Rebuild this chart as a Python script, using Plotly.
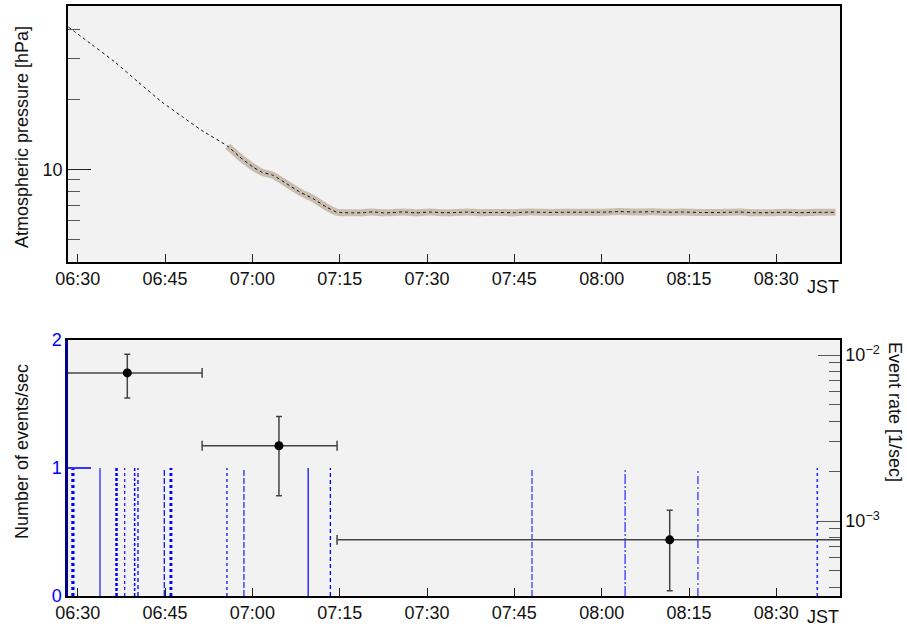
import pandas as pd
import plotly.graph_objects as go

DAY = "2024-01-01 "

# ---------------- data ----------------
# Atmospheric pressure [hPa] (top panel)
pressure_times = [
    "06:28:24", "06:32:24", "06:36:24", "06:40:24", "06:44:26", "06:47:52", "06:51:18",
    "06:55:46", "06:57:50", "07:00:07", "07:01:34", "07:03:34", "07:05:52", "07:08:08",
    "07:10:26", "07:12:44", "07:14:27",
    "07:15:00", "07:17:00", "07:19:00", "07:20:40", "07:22:30", "07:24:00", "07:25:50",
    "07:28:00", "07:30:30", "07:33:00", "07:35:00", "07:36:50", "07:39:00", "07:42:00",
    "07:45:00", "07:47:40", "07:50:00", "07:53:00", "07:56:00", "07:59:00", "08:01:00",
    "08:03:00", "08:05:30", "08:08:50", "08:11:00", "08:14:00", "08:17:00", "08:20:00",
    "08:23:45", "08:26:00", "08:29:00", "08:31:50", "08:34:00", "08:37:00", "08:40:10",
]
pressure_values = [
    40.9, 34.4, 28.9, 23.7, 19.5, 16.9, 14.7,
    12.56, 11.30, 10.23, 9.74, 9.42, 8.68, 7.99,
    7.48, 6.88, 6.55,
    6.52, 6.50, 6.51, 6.56, 6.50, 6.51, 6.56,
    6.50, 6.55, 6.51, 6.52, 6.55, 6.51, 6.52,
    6.51, 6.55, 6.53, 6.53, 6.54, 6.54, 6.55,
    6.58, 6.55, 6.57, 6.54, 6.55, 6.52, 6.52,
    6.55, 6.51, 6.51, 6.54, 6.51, 6.53, 6.53,
]
band_start = "06:55:46"   # measured segment shown with the grey band

# Individual events (bottom panel, 1 event each)
event_times = [
    "06:29:09", "06:29:11", "06:29:13", "06:33:50", "06:36:39", "06:36:41",
    "06:38:04", "06:39:47", "06:40:21", "06:44:52", "06:46:00", "06:46:02",
    "06:55:38", "06:58:33", "07:09:35", "07:13:24",
    "07:48:02", "08:04:01", "08:16:32", "08:37:02",
]
event_counts = [1] * len(event_times)

# Event rate per bin [1/sec]
rate_times = ["06:38:31", "07:04:34", "08:11:41"]
rate_values = [7.8e-3, 2.84e-3, 7.7e-4]
rate_errors = [2.3e-3, 1.42e-3, 3.9e-4]
bin_starts = ["06:25:30", "06:51:22", "07:14:33"]
bin_ends = ["06:51:22", "07:14:33", "08:45:00"]

x_range = ["06:28:20", "08:40:56"]
pressure_tick = [10]
pressure_minor = [4, 5, 6, 7, 8, 9, 20, 30, 40, 50]
count_ticks = [0, 1, 2]
rate_ticks = [1e-3, 1e-2]
rate_tick_text = ["10<sup>\u22123</sup>", "10<sup>\u22122</sup>"]
rate_minor = [4e-4, 5e-4, 6e-4, 7e-4, 8e-4, 9e-4,
              2e-3, 3e-3, 4e-3, 5e-3, 6e-3, 7e-3, 8e-3, 9e-3]

# ---------------- styles ----------------
event_styles = [
    ("dot", 2.5, "#0000ff"), ("dot", 2.5, "#0000ff"), ("dot", 2.5, "#0000ff"),
    ("solid", 2.0, "#7070ff"), ("3px,2px", 2.0, "#0000ff"), ("3px,2px", 2.0, "#0000ff"),
    ("3px,3px", 1.3, "#2020ff"), ("3px,2px", 1.5, "#0000ff"), ("4px,3px", 1.3, "#0000ff"),
    ("6px,2px", 1.2, "#0000ff"), ("dot", 2.5, "#0000ff"), ("dot", 2.5, "#0000ff"),
    ("3px,3px", 1.6, "#3a3aff"), ("6px,2px", 1.6, "#5050ff"), ("solid", 1.2, "#0000ff"),
    ("4px,3px", 1.3, "#0000ff"),
    ("6px,2px", 1.0, "#0000ff"), ("10px,2px,2px,2px", 1.0, "#0000ff"),
    ("8px,3px,2px,3px", 1.0, "#0000ff"), ("dot", 1.6, "#2a2aff"),
]

FONT = "Liberation Sans, Arial, Helvetica, sans-serif"
FS = 18
ERR_COLOR = "#444444"

def ts(t):
    return pd.Timestamp(DAY + t)

W, H = 907, 627
def px_x(p):
    return p / W
def px_y(p):
    return 1 - p / H

xdom = [px_x(68), px_x(840)]
top_dom = [px_y(262), px_y(6)]
bot_dom = [px_y(596), px_y(340)]

fig = go.Figure()

# --- top panel: pressure ---
pt = [ts(t) for t in pressure_times]
bs = ts(band_start)
band_x = [t for t in pt if t >= bs]
band_y = [v for t, v in zip(pt, pressure_values) if t >= bs]
fig.add_trace(go.Scatter(x=band_x, y=band_y, mode="lines", xaxis="x", yaxis="y",
                         line=dict(color="#c9bdb0", width=7, shape="spline", smoothing=0.6),
                         hoverinfo="skip", showlegend=False))
fig.add_trace(go.Scatter(x=pt, y=pressure_values, mode="lines", xaxis="x", yaxis="y",
                         line=dict(color="#111111", width=1, dash="3px,3px",
                                   shape="spline", smoothing=0.6),
                         showlegend=False))

# --- bottom panel: events ---
for t, c, (dash, w, col) in zip(event_times, event_counts, event_styles):
    fig.add_trace(go.Scatter(x=[ts(t), ts(t)], y=[0, c], mode="lines",
                             xaxis="x2", yaxis="y2",
                             line=dict(color=col, width=w, dash=dash),
                             showlegend=False))

# --- bottom panel: rates (bin widths as horizontal bars) ---
hx, hy, cx, cy = [], [], [], []
for s, e, v in zip(bin_starts, bin_ends, rate_values):
    hx += [ts(s), ts(e), None]
    hy += [v, v, None]
    cx += [ts(s), ts(e)]
    cy += [v, v]
fig.add_trace(go.Scatter(x=hx, y=hy, mode="lines", xaxis="x2", yaxis="y3",
                         line=dict(color=ERR_COLOR, width=1.5), showlegend=False))
fig.add_trace(go.Scatter(x=cx, y=cy, mode="markers", xaxis="x2", yaxis="y3",
                         marker=dict(symbol="line-ns", size=7,
                                     line=dict(color=ERR_COLOR, width=1.5)),
                         showlegend=False))
rt = [ts(t) for t in rate_times]
fig.add_trace(go.Scatter(
    x=rt, y=rate_values, mode="markers", xaxis="x2", yaxis="y3",
    marker=dict(color="black", size=9),
    error_y=dict(type="data", array=rate_errors, color=ERR_COLOR, thickness=1.5, width=3),
    showlegend=False))

xr = [ts(x_range[0]), ts(x_range[1])]
xcommon = dict(type="date", range=xr, domain=xdom, tickformat="%H:%M",
               tick0=ts("06:30:00"), dtick=15 * 60 * 1000,
               ticks="inside", ticklen=8, tickcolor="#222", tickwidth=1.2,
               showline=True, linecolor="black", linewidth=1.5, mirror=True,
               showgrid=False, zeroline=False, automargin=False,
               tickfont=dict(family=FONT, size=FS, color="#111"))

fig.update_layout(
    width=W, height=H, margin=dict(l=0, r=0, t=0, b=0, autoexpand=False),
    paper_bgcolor="white", plot_bgcolor="#f2f2f2",
    font=dict(family=FONT, size=FS, color="#111"),
    xaxis=dict(anchor="y", **xcommon),
    yaxis=dict(type="log", domain=top_dom, anchor="x",
               range=[0.6015, 1.702], tickvals=pressure_tick, ticktext=["10"],
               ticks="inside", ticklen=23, tickcolor="#222", tickwidth=1.2,
               minor=dict(tickmode="array", tickvals=pressure_minor, ticks="inside",
                          ticklen=12, tickcolor="#555", tickwidth=1.2, showgrid=False),
               showline=True, linecolor="black", linewidth=1.5, mirror=True,
               showgrid=False, zeroline=False, automargin=False,
               tickfont=dict(family=FONT, size=FS, color="#111")),
    xaxis2=dict(anchor="y2", **xcommon),
    yaxis2=dict(domain=bot_dom, anchor="x2", range=[0, 2],
                tickvals=count_ticks, ticks="inside", ticklen=23,
                tickcolor="#3333ff", tickwidth=1.5,
                showline=True, linecolor="#00008b", linewidth=2.5, mirror=False,
                showgrid=False, zeroline=False, automargin=False,
                tickfont=dict(family=FONT, size=FS, color="#0000ff")),
    yaxis3=dict(type="log", overlaying="y2", anchor="x2", side="right",
                range=[-3.4518, -1.9096], tickvals=rate_ticks, ticktext=rate_tick_text,
                ticks="inside", ticklen=22, tickcolor="#555", tickwidth=1.2,
                minor=dict(tickmode="array", tickvals=rate_minor, ticks="inside",
                           ticklen=11, tickcolor="#555", tickwidth=1.2, showgrid=False),
                showline=True, linecolor="black", linewidth=1.5,
                showgrid=False, zeroline=False, automargin=False,
                tickfont=dict(family=FONT, size=FS, color="#111")),
)

ann_font = dict(family=FONT, size=FS, color="#111")
fig.add_annotation(text="Atmospheric pressure [hPa]", x=px_x(22), y=px_y(137),
                   xref="paper", yref="paper", textangle=-90, showarrow=False,
                   xanchor="center", yanchor="middle", font=ann_font)
fig.add_annotation(text="Number of events/sec", x=px_x(22), y=px_y(452),
                   xref="paper", yref="paper", textangle=-90, showarrow=False,
                   xanchor="center", yanchor="middle", font=ann_font)
fig.add_annotation(text="Event rate [1/sec]", x=px_x(895), y=px_y(412),
                   xref="paper", yref="paper", textangle=90, showarrow=False,
                   xanchor="center", yanchor="middle", font=ann_font)
for yy in (287, 617):
    fig.add_annotation(text="JST", x=px_x(823), y=px_y(yy),
                       xref="paper", yref="paper", showarrow=False,
                       xanchor="center", yanchor="middle", font=ann_font)

fig.write_html("out.html")
